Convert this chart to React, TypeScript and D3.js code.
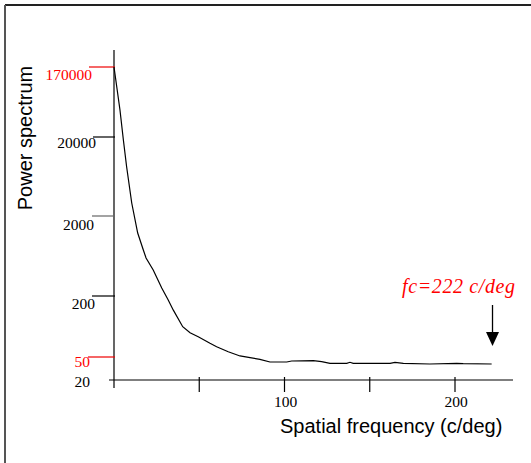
import React from "react";
import * as d3 from "d3";

// Spatial frequency (c/deg)
const freq = [0, 3.5, 5.5, 7.4, 10.4, 13.9, 17.2, 18.8, 23.0, 28.0, 31.8, 34.8, 40.3, 44.6, 49.4, 56.3, 60.2, 67.0, 73.9, 79.8, 85.6, 91.5, 101.3, 104.2, 116.9, 121.8, 126.7, 136.5, 138.4, 140.3, 161.9, 164.8, 169.7, 185.3, 201.0, 204.8, 221.5];
// Power spectrum
const power = [170000, 45600, 18300, 8400, 2920, 1226, 752, 597, 423, 252, 183, 145, 99.5, 86.9, 79.3, 68.3, 63.2, 56.4, 51.2, 48.6, 45.6, 41.0, 41.0, 42.6, 43.2, 41.5, 38.9, 38.9, 40.5, 38.9, 38.9, 40.5, 38.9, 37.8, 38.9, 38.4, 37.8];

const yTickValues = [20, 50, 200, 2000, 20000, 170000];
const yTickLabels = ["20", "50", "200", "2000", "20000", "170000"];
const yTickRed = [false, true, false, false, false, true];
const xTickValues = [50, 100, 150, 200];
const xTickLabels = ["", "100", "", "200"];
const cutoff = 222;
const annotation = "fc=222 c/deg";

// layout (non-data)
const yLabelRight = [90, 90, 95, 94, 96, 92];
const yLabelDy = [7, 10, 13, 14, 11, 13];
const yTickLeft = [109, 88, 92, 92, 93, 89];

export default function App() {
  const W = 531, H = 463;
  const x = d3.scaleLinear().domain([0, 200]).range([114, 455]);
  // piecewise log scale following the reference's (unevenly spaced) labelled ticks
  const y = d3.scaleLog().domain(yTickValues).range([380, 357, 296, 216, 137, 67]);
  const pts: [number, number][] = freq.map((f, i) => [f, power[i]]);
  const line = d3.line<[number, number]>().x(d => x(d[0])).y(d => y(d[1]));
  const ax = x(0);
  const ay = y(20);
  const cx = x(cutoff);
  const tipY = y(power[power.length - 1]) - 18;
  return (
    <svg width={W} height={H} style={{ position: "absolute", left: 0, top: 0, background: "#fff" }}>
      <rect x={0} y={0} width={W} height={H} fill="#fff" />
      {/* frame */}
      <line x1={5} y1={5} x2={531} y2={5} stroke="#222" strokeWidth={2} />
      <line x1={5} y1={5} x2={5} y2={463} stroke="#555" strokeWidth={2} />
      {/* axes */}
      <line x1={ax} y1={50} x2={ax} y2={388} stroke="#000" strokeWidth={1.2} />
      <line x1={109} y1={ay} x2={513} y2={ay} stroke="#000" strokeWidth={1.2} />
      {/* y ticks */}
      {yTickValues.map((v, i) => (
        <g key={"yt" + i}>
          {i > 0 && (
            <line x1={yTickLeft[i]} y1={y(v)} x2={ax + 1} y2={y(v)}
              stroke={yTickRed[i] ? "#e00" : i === 3 ? "#666" : "#000"} strokeWidth={1.2} />
          )}
          <text x={yLabelRight[i]} y={y(v) + yLabelDy[i]} textAnchor="end"
            fontFamily="'Liberation Serif', 'Times New Roman', serif" fontSize={15.5}
            fill={yTickRed[i] ? "#f00" : "#000"}>{yTickLabels[i]}</text>
        </g>
      ))}
      {/* x ticks */}
      {xTickValues.map((v, i) => (
        <g key={"xt" + i}>
          <line x1={x(v)} y1={377} x2={x(v)} y2={392} stroke="#000" strokeWidth={1.2} />
          {xTickLabels[i] && (
            <text x={x(v) + 1} y={407} textAnchor="middle"
              fontFamily="'Liberation Serif', 'Times New Roman', serif" fontSize={15.5}>{xTickLabels[i]}</text>
          )}
        </g>
      ))}
      {/* curve */}
      <path d={line(pts) || ""} fill="none" stroke="#000" strokeWidth={1.2} />
      {/* cutoff annotation */}
      <text x={402} y={293} fontFamily="'Liberation Serif', 'Times New Roman', serif" fontStyle="italic"
        fontSize={20} fill="#f00" textLength={113} lengthAdjust="spacing">{annotation}</text>
      <line x1={cx} y1={305} x2={cx} y2={tipY - 12} stroke="#000" strokeWidth={1.3} />
      <polygon points={`${cx - 6.5},${tipY - 14} ${cx + 6.5},${tipY - 14} ${cx},${tipY}`} fill="#000" />
      {/* axis titles */}
      <text x={280} y={433} fontFamily="'Liberation Sans', Arial, sans-serif" fontSize={20}>Spatial frequency (c/deg)</text>
      <text transform="translate(32,138) rotate(-90)" textAnchor="middle"
        fontFamily="'Liberation Sans', Arial, sans-serif" fontSize={20}>Power spectrum</text>
    </svg>
  );
}
